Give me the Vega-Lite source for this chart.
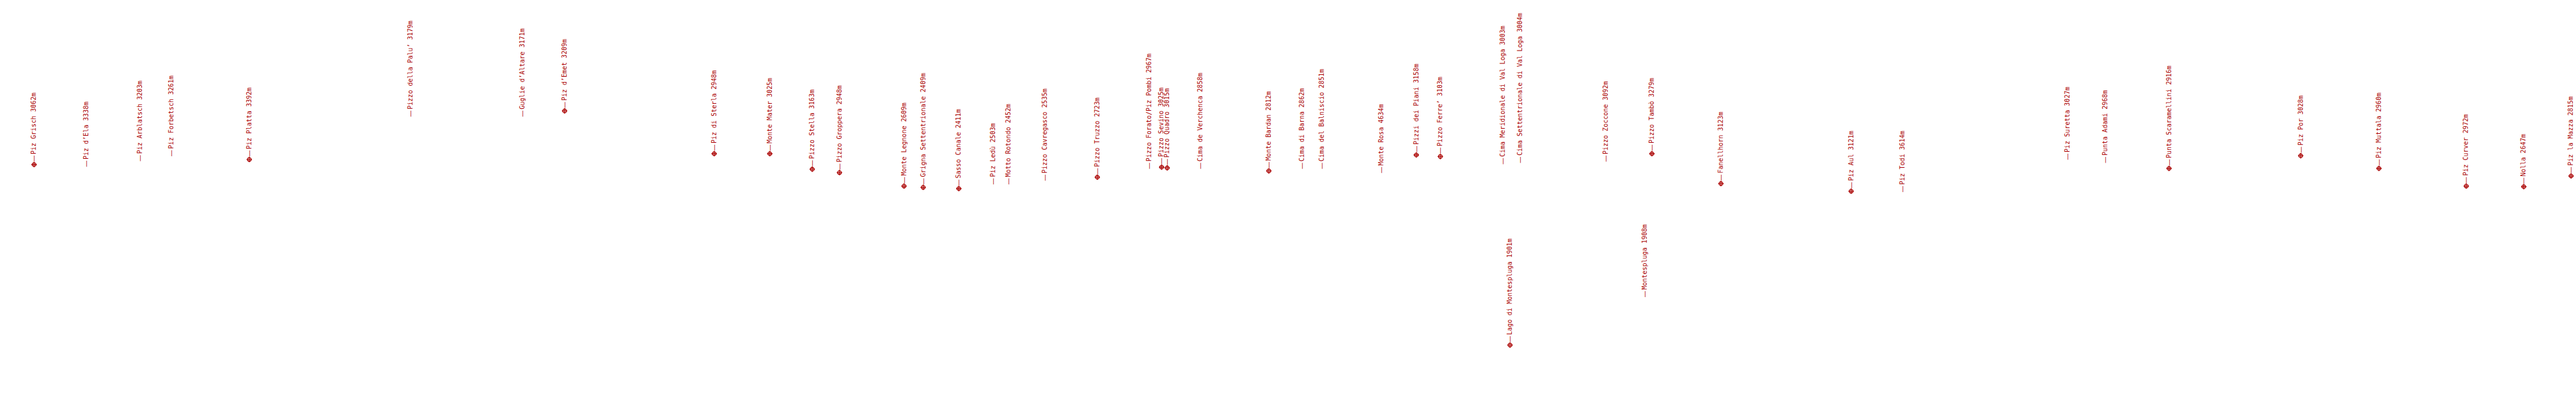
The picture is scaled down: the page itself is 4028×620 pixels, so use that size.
{
  "$schema": "https://vega.github.io/schema/vega-lite/v6.json",
  "width": 4028,
  "height": 620,
  "autosize": {"type": "fit", "contains": "padding"},
  "padding": 0,
  "background": "white",
  "config": {"view": {"stroke": null}},
  "data": {"values": [
    {"label": "Piz Grisch 3062m", "azimuth": 53.3, "elevation": 253.0, "summit": true},
    {"label": "Piz d’Ela 3338m", "azimuth": 135, "elevation": 261.0, "summit": false},
    {"label": "Piz Arblatsch 3203m", "azimuth": 219.3, "elevation": 252.3, "summit": false},
    {"label": "Piz Forbetsch 3261m", "azimuth": 268.3, "elevation": 244.4, "summit": false},
    {"label": "Piz Platta 3392m", "azimuth": 390, "elevation": 245.1, "summit": true},
    {"label": "Pizzo della Palu’ 3179m", "azimuth": 642.3, "elevation": 182.7, "summit": false},
    {"label": "Guglie d’Altare 3171m", "azimuth": 817.3, "elevation": 182.7, "summit": false},
    {"label": "Piz d’Emet 3209m", "azimuth": 883.3, "elevation": 169.2, "summit": true},
    {"label": "Piz di Sterla 2948m", "azimuth": 1117.3, "elevation": 236.0, "summit": true},
    {"label": "Monte Mater 3025m", "azimuth": 1204.3, "elevation": 236.0, "summit": true},
    {"label": "Pizzo Stella 3163m", "azimuth": 1270.7, "elevation": 260.2, "summit": true},
    {"label": "Pizzo Groppera 2948m", "azimuth": 1313.3, "elevation": 265.6, "summit": true},
    {"label": "Monte Legnone 2609m", "azimuth": 1414.3, "elevation": 286.6, "summit": true},
    {"label": "Grigna Settentrionale 2409m", "azimuth": 1444.3, "elevation": 288.6, "summit": true},
    {"label": "Sasso Canale 2411m", "azimuth": 1500, "elevation": 290.5, "summit": true},
    {"label": "Piz Ledù 2503m", "azimuth": 1553.3, "elevation": 288.6, "summit": false},
    {"label": "Motto Rotondo 2452m", "azimuth": 1577.3, "elevation": 288.6, "summit": false},
    {"label": "Pizzo Cavregasco 2535m", "azimuth": 1635.3, "elevation": 282.7, "summit": false},
    {"label": "Pizzo Truzzo 2723m", "azimuth": 1716.7, "elevation": 272.7, "summit": true},
    {"label": "Pizzo Forato/Piz Pombi 2967m", "azimuth": 1798.3, "elevation": 264.2, "summit": false},
    {"label": "Pizzo Sevino 3025m", "azimuth": 1817.3, "elevation": 257.0, "summit": true},
    {"label": "Pizzo Quadro 3015m", "azimuth": 1826, "elevation": 258.2, "summit": true},
    {"label": "Cima de Verchenca 2858m", "azimuth": 1877.7, "elevation": 264.2, "summit": false},
    {"label": "Monte Bardan 2812m", "azimuth": 1985, "elevation": 262.9, "summit": true},
    {"label": "Cima di Barna 2862m", "azimuth": 2037.3, "elevation": 264.2, "summit": false},
    {"label": "Cima del Balniscio 2851m", "azimuth": 2068.3, "elevation": 264.2, "summit": false},
    {"label": "Monte Rosa 4634m", "azimuth": 2161, "elevation": 270.8, "summit": false},
    {"label": "Pizzi dei Piani 3158m", "azimuth": 2215.7, "elevation": 238.0, "summit": true},
    {"label": "Pizzo Ferre’ 3103m", "azimuth": 2253.3, "elevation": 240.4, "summit": true},
    {"label": "Cima Meridionale di Val Loga 3003m", "azimuth": 2350.7, "elevation": 257.0, "summit": false},
    {"label": "Lago di Montespluga 1901m", "azimuth": 2362.3, "elevation": 534.9, "summit": true},
    {"label": "Cima Settentrionale di Val Loga 3004m", "azimuth": 2377.7, "elevation": 255.0, "summit": false},
    {"label": "Pizzo Zoccone 3092m", "azimuth": 2512.3, "elevation": 253.0, "summit": false},
    {"label": "Montespluga 1908m", "azimuth": 2573.3, "elevation": 464.6, "summit": false},
    {"label": "Pizzo Tambò 3279m", "azimuth": 2584.3, "elevation": 236.0, "summit": true},
    {"label": "Fanellhorn 3123m", "azimuth": 2692.3, "elevation": 282.7, "summit": true},
    {"label": "Piz Aul 3121m", "azimuth": 2896, "elevation": 294.6, "summit": true},
    {"label": "Piz Todi 3614m", "azimuth": 2976.7, "elevation": 300.5, "summit": false},
    {"label": "Piz Suretta 3027m", "azimuth": 3234.3, "elevation": 249.9, "summit": false},
    {"label": "Punta Adami 2968m", "azimuth": 3294, "elevation": 255.0, "summit": false},
    {"label": "Punta Scaramellini 2916m", "azimuth": 3393.3, "elevation": 259.0, "summit": true},
    {"label": "Piz Por 3028m", "azimuth": 3599.3, "elevation": 239.2, "summit": true},
    {"label": "Piz Muttala 2960m", "azimuth": 3721.7, "elevation": 259.0, "summit": true},
    {"label": "Piz Curver 2972m", "azimuth": 3858.3, "elevation": 286.6, "summit": true},
    {"label": "Nolla 2647m", "azimuth": 3948.3, "elevation": 287.5, "summit": true},
    {"label": "Piz la Mazza 2815m", "azimuth": 4022.3, "elevation": 270.8, "summit": true}
  ]},
  "encoding": {
    "x": {"field": "azimuth", "type": "quantitative", "scale": {"domain": [0, 4028], "nice": false, "zero": false}, "axis": null},
    "y": {"field": "elevation", "type": "quantitative", "scale": {"domain": [620, 0], "nice": false, "zero": false}, "axis": null}
  },
  "layer": [
    {
      "transform": [{"filter": "datum.summit"}],
      "mark": {"type": "point", "shape": "M -0.7 0 A 0.7 0.7 0 1 1 0.7 0 A 0.7 0.7 0 1 1 -0.7 0 Z M -1 0 L 1 0 M 0 -1 L 0 1", "size": 72, "filled": false, "stroke": "#aa0000", "strokeWidth": 1.3, "opacity": 1, "yOffset": 4}
    },
    {
      "mark": {"type": "text", "angle": 270, "align": "left", "baseline": "middle", "font": "DejaVu Sans", "fontSize": 10.5, "color": "#aa0000", "dx": 0},
      "encoding": {"text": {"value": "—"}}
    },
    {
      "mark": {"type": "text", "angle": 270, "align": "left", "baseline": "middle", "font": "DejaVu Sans Mono", "fontSize": 10, "color": "#aa0000", "dx": 12},
      "encoding": {"text": {"field": "label", "type": "nominal"}}
    }
  ]
}
